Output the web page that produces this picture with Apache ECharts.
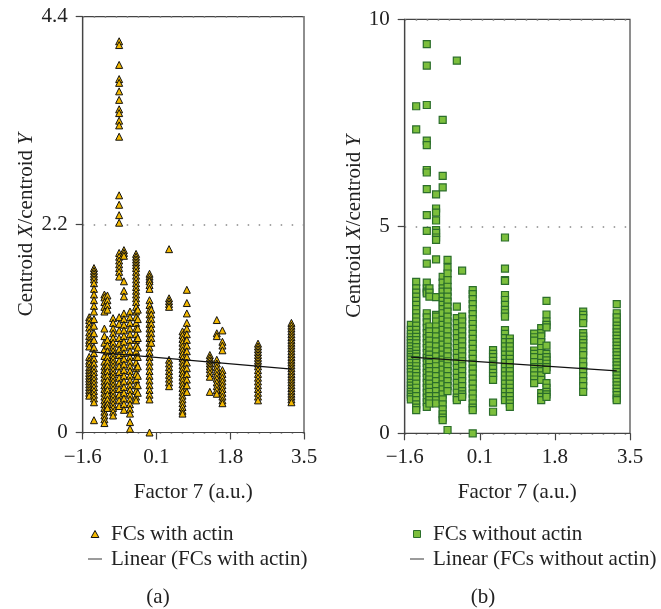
<!DOCTYPE html>
<html>
<head>
<meta charset="utf-8">
<script src="https://cdn.jsdelivr.net/npm/echarts@6/dist/echarts.min.js"></script>
<style>html,body{margin:0;padding:0;background:#fff}#c{width:661px;height:609px}</style>
</head>
<body>
<div id="c"></div>
<script>
// ---- Data ----
const xTicks = [-1.6, 0.1, 1.8, 3.5];
const yTicksA = [0, 2.2, 4.4];
const yTicksB = [0, 5, 10];

// Panel (a): FCs with actin — factor 7 levels and centroid ratio values per level
const factorA = [-1.45, -1.34, -1.10, -1.03, -0.90, -0.76, -0.65, -0.51, -0.37, -0.33, -0.06, -0.02, 0.39, 0.70, 0.80, 1.33, 1.49, 1.62, 2.44, 3.21];
const ratioA = [
  [1.22,1.19,1.15,1.11,1.06,1.02,0.98,0.95,0.91,0.80,0.76,0.73,0.69,0.66,0.63,0.60,0.57,0.54,0.51,0.48,0.45,0.42,0.39],
  [1.74,1.71,1.68,1.65,1.62,1.58,1.52,1.46,1.40,1.34,1.28,1.20,1.13,1.05,0.98,0.90,0.84,0.78,0.73,0.68,0.64,0.60,0.56,0.52,0.48,0.44,0.40,0.36,0.32,0.13],
  [1.46,1.43,1.38,1.33,1.28,1.10,1.02,0.95,0.88,0.81,0.75,0.70,0.66,0.62,0.58,0.54,0.50,0.46,0.42,0.38,0.34,0.30,0.26,0.22,0.18,0.14,0.10],
  [1.45,1.40,1.35,1.30,0.98,0.92,0.86,0.80,0.75,0.70,0.65,0.60,0.55,0.50,0.45,0.40,0.35,0.30,0.26],
  [1.21,1.16,1.10,1.05,1.00,0.95,0.90,0.86,0.82,0.78,0.74,0.70,0.66,0.62,0.58,0.54,0.50,0.46,0.42,0.38,0.34,0.30,0.26,0.22,0.18],
  [4.14,4.10,3.89,3.74,3.70,3.61,3.52,3.42,3.38,3.30,3.25,3.13,2.51,2.41,2.30,2.22,1.90,1.86,1.82,1.78,1.74,1.70,1.65,1.22,1.15,1.08,1.00,0.94,0.88,0.82,0.76,0.70,0.64,0.58,0.52,0.46,0.40,0.34,0.28],
  [1.93,1.90,1.87,1.60,1.50,1.44,1.26,1.20,1.14,1.08,1.02,0.96,0.90,0.84,0.78,0.72,0.66,0.60,0.54,0.48,0.42,0.36,0.30,0.24],
  [1.28,1.22,1.16,1.10,1.04,0.98,0.92,0.86,0.80,0.75,0.70,0.65,0.60,0.55,0.50,0.45,0.40,0.35,0.30,0.25,0.20,0.11,0.04],
  [1.89,1.86,1.83,1.80,1.77,1.74,1.70,1.66,1.62,1.58,1.54,1.50,1.46,1.42,1.38,1.33,1.28,1.22,1.16,1.10,1.04,0.98,0.92,0.86,0.80,0.74,0.68,0.62,0.56,0.50,0.44,0.38,0.34],
  [1.30,1.20,1.10,1.00,0.90,0.80,0.70,0.60,0.50,0.42],
  [1.68,1.65,1.62,1.60,1.56,1.52,1.40,1.35,1.30,1.25,1.20,1.15,1.10,1.05,1.00,0.95,0.90,0.85,0.80,0.75,0.70,0.65,0.60,0.55,0.50,0.45,0.40,0.35,0.00],
  [1.30,1.25,1.20,1.15,1.10,1.05,1.00,0.95],
  [1.94,1.42,1.39,1.36,1.33,0.77,0.73,0.69,0.65,0.61,0.57,0.53,0.49],
  [1.07,1.03,0.99,0.95,0.91,0.87,0.83,0.79,0.75,0.71,0.67,0.63,0.59,0.55,0.51,0.47,0.43,0.39,0.35,0.31,0.27,0.23,0.20],
  [1.51,1.37,1.26,1.16,1.10,1.04,0.98,0.92,0.86,0.80,0.74,0.68,0.62,0.56,0.50,0.43],
  [0.82,0.79,0.76,0.73,0.70,0.67,0.63,0.59,0.43],
  [1.19,1.05,1.02,0.77,0.73,0.69,0.65,0.61,0.57,0.53,0.49,0.45,0.41],
  [1.08,0.96,0.92,0.87,0.66,0.62,0.58,0.54,0.50,0.46,0.42,0.38,0.34,0.31],
  [0.94,0.91,0.88,0.85,0.82,0.79,0.76,0.73,0.70,0.66,0.62,0.58,0.54,0.50,0.46,0.42,0.38,0.34],
  [1.16,1.13,1.10,1.07,1.04,1.01,0.98,0.95,0.92,0.89,0.86,0.83,0.80,0.77,0.74,0.71,0.68,0.65,0.62,0.59,0.56,0.53,0.50,0.47,0.44,0.41,0.38,0.35,0.32]
];
const trendAx = [-1.45, 3.22];
const trendAy = [0.855, 0.67];

// Panel (b): FCs without actin
const factorB = [-1.46, -1.34, -1.10, -1.04, -0.89, -0.74, -0.63, -0.42, -0.30, -0.06, 0.40, 0.67, 0.78, 1.33, 1.49, 1.61, 2.44, 3.20];
const ratioB = [
  [2.62,2.50,2.40,2.32,2.25,2.18,2.10,2.03,1.96,1.90,1.84,1.78,1.70,1.62,1.55,1.48,1.40,1.30,1.22,1.15,1.08,1.00,0.94,0.88,0.82],
  [7.90,7.34,3.66,3.50,3.40,3.30,3.20,3.10,3.00,2.90,2.80,2.70,2.60,2.50,2.41,2.33,2.25,2.17,2.08,2.00,1.92,1.85,1.77,1.70,1.62,1.54,1.46,1.38,1.30,1.20,1.10,1.00,0.90,0.80,0.70,0.62,0.56],
  [9.40,8.88,7.93,7.07,6.96,6.36,6.30,5.90,5.27,4.89,4.41,4.10,3.64,3.50,3.42,3.38,2.90,2.80,2.68,2.55,2.42,2.30,2.18,2.06,1.94,1.82,1.70,1.58,1.46,1.34,1.22,1.10,0.98,0.86,0.75,0.64],
  [3.50,3.40,3.30,2.58,2.46,2.35,2.24,2.12,2.00,1.90,1.80,1.70,1.60,1.50,1.40,1.30,1.20,1.10,1.00,0.90,0.80,0.72],
  [5.77,5.43,5.33,5.14,4.91,4.84,4.73,4.67,4.20,3.29,2.86,2.82,2.70,2.58,2.46,2.34,2.22,2.10,1.98,1.86,1.74,1.62,1.50,1.38,1.26,1.14,1.02,0.90,0.80,0.72],
  [7.57,6.22,5.94,3.78,3.64,3.50,3.42,3.30,3.20,3.10,3.00,2.90,2.74,2.62,2.50,2.38,2.26,2.14,2.02,1.90,1.78,1.66,1.54,1.42,1.30,1.18,1.06,0.94,0.82,0.70,0.58,0.46,0.38,0.32],
  [4.19,4.00,3.86,3.70,3.54,3.42,3.30,3.18,3.06,2.94,2.82,2.70,2.58,2.46,2.34,2.22,2.09,1.98,1.86,1.74,1.62,1.50,1.38,1.26,1.14,1.02,0.08],
  [9.00,3.06,2.78,2.66,2.54,2.42,2.30,2.18,2.06,1.94,1.82,1.70,1.58,1.46,1.34,1.22,1.10,0.98,0.86,0.80],
  [3.93,2.82,2.70,2.58,2.46,2.34,2.22,2.10,1.98,1.86,1.74,1.62,1.50,1.38,1.26,1.14,1.02,0.94,0.88],
  [3.46,3.36,3.24,3.12,3.00,2.88,2.76,2.64,2.52,2.40,2.28,2.16,2.04,1.92,1.80,1.68,1.56,1.44,1.32,1.20,1.08,0.96,0.84,0.72,0.62,0.56,0.00],
  [2.01,1.92,1.84,1.75,1.66,1.56,1.46,1.38,1.29,0.74,0.52],
  [4.73,3.98,3.70,3.68,3.34,3.22,3.10,2.98,2.90,2.82,2.49,2.40,2.30,2.20,2.10,2.00,1.90,1.80,1.70,1.60,1.50,1.40,1.30,1.20,1.10,1.00,0.90,0.80],
  [2.29,2.20,2.10,2.00,1.90,1.80,1.70,1.60,1.50,1.40,1.30,1.20,1.10,1.00,0.90,0.80,0.72,0.64],
  [2.41,2.32,2.24,2.00,1.92,1.84,1.72,1.60,1.50,1.40,1.30,1.21],
  [2.54,2.42,2.34,2.20,2.06,1.94,1.82,1.70,1.60,1.50,1.40,1.29,0.97,0.88,0.80],
  [3.20,2.87,2.70,2.62,2.56,2.12,1.92,1.84,1.76,1.68,1.60,1.53,1.21,1.10,1.00,0.94,0.88],
  [2.94,2.86,2.78,2.66,2.42,2.34,2.26,2.18,2.10,1.98,1.89,1.73,1.62,1.50,1.38,1.26,1.14,1.00],
  [3.12,2.90,2.80,2.70,2.60,2.52,2.44,2.36,2.28,2.20,2.12,2.04,1.96,1.88,1.80,1.72,1.64,1.56,1.48,1.40,1.32,1.24,1.16,1.08,1.00,0.92,0.84,0.80]
];
const trendBx = [-1.46, 3.20];
const trendBy = [1.84, 1.51];

// ---- Build ----
function pts(xs, vals) { const out = []; xs.forEach((x, i) => vals[i].forEach(v => out.push([x, v]))); return out; }
const FONT = '"Liberation Serif", "Times New Roman", serif';
const FS = 21;
const INK = '#222';
const AX = '#444';
const fmtX = v => { const r = Math.round(v * 10) / 10; return (r < 0 ? '\u2212' : '') + Math.abs(r).toFixed(1); };
const TRI = 'path://M5,0L10,9L0,9Z';
const SQ = 'path://M0,0H10V10H0Z';
const DASH = 'path://M0,0H20V1.4H0Z';

function xAxis(gi) {
  return {
    type: 'value', gridIndex: gi, min: xTicks[0], max: xTicks[xTicks.length - 1],
    name: 'Factor 7 (a.u.)', nameLocation: 'middle', nameGap: 49,
    nameTextStyle: { fontFamily: FONT, fontSize: FS, color: INK },
    axisLine: { show: true, onZero: false, lineStyle: { color: AX, width: 1.2 } },
    axisTick: { show: true, inside: false, length: 7, customValues: xTicks, lineStyle: { color: AX, width: 1.2 } },
    axisLabel: { customValues: xTicks, margin: 14, formatter: fmtX, fontFamily: FONT, fontSize: FS, color: INK },
    splitLine: { show: false }
  };
}
function yAxis(gi, ticks, gap) {
  return {
    type: 'value', gridIndex: gi, min: ticks[0], max: ticks[ticks.length - 1], interval: ticks[1] - ticks[0],
    name: 'Centroid {i|X}/centroid {i|Y}', nameLocation: 'middle', nameGap: gap, nameRotate: 90,
    nameTextStyle: { fontFamily: FONT, fontSize: 21, color: INK, rich: { i: { fontFamily: FONT, fontSize: 21, fontStyle: 'italic', color: INK } } },
    axisLine: { show: true, onZero: false, lineStyle: { color: AX, width: 1.2 } },
    axisTick: { show: true, length: 7, lineStyle: { color: AX, width: 1.2 } },
    axisLabel: { margin: 15, fontFamily: FONT, fontSize: FS, color: INK,
      formatter: v => (v === 0 ? '0' : (Number.isInteger(ticks[1]) ? String(v) : v.toFixed(1))) },
    splitLine: { show: true, lineStyle: { color: '#888', width: 1.5, type: [1.5, 9.5] } }
  };
}
const legendText = { fontFamily: FONT, fontSize: FS, color: INK, padding: [0, 0, 0, 4], lineHeight: 22 };

const chart = echarts.init(document.getElementById('c'), null, { renderer: 'canvas' });
chart.setOption({
  backgroundColor: '#fff',
  animation: false,
  grid: [
    { left: 82.7, top: 16.7, width: 221.3, height: 415.8, show: true, borderColor: AX, borderWidth: 1.2, backgroundColor: 'transparent' },
    { left: 404.7, top: 19.3, width: 225.3, height: 414, show: true, borderColor: AX, borderWidth: 1.2, backgroundColor: 'transparent' }
  ],
  xAxis: [xAxis(0), xAxis(1)],
  yAxis: [yAxis(0, yTicksA, 46), yAxis(1, yTicksB, 38)],
  legend: [
    { left: 83, top: 518, orient: 'vertical', itemWidth: 14, itemHeight: 7, itemGap: 3, symbolKeepAspect: true,
      data: [
        { name: 'FCs with actin', icon: TRI, itemStyle: { color: '#f3b800', borderColor: '#111', borderWidth: 1 } },
        { name: 'Linear (FCs with actin)', icon: DASH, itemStyle: { color: '#333', borderWidth: 0 } }
      ],
      textStyle: legendText },
    { left: 405, top: 518, orient: 'vertical', itemWidth: 14, itemHeight: 7, itemGap: 3, symbolKeepAspect: true,
      data: [
        { name: 'FCs without actin', icon: SQ, itemStyle: { color: '#7cbf3c', borderColor: '#2b6e2b', borderWidth: 1 } },
        { name: 'Linear (FCs without actin)', icon: DASH, itemStyle: { color: '#333', borderWidth: 0 } }
      ],
      textStyle: legendText }
  ],
  graphic: [
    { type: 'text', x: 158, y: 597, style: { text: '(a)', font: FS + 'px ' + FONT, fill: INK, align: 'center', verticalAlign: 'middle' } },
    { type: 'text', x: 483, y: 597, style: { text: '(b)', font: FS + 'px ' + FONT, fill: INK, align: 'center', verticalAlign: 'middle' } }
  ],
  series: [
    { name: 'FCs with actin', type: 'scatter', xAxisIndex: 0, yAxisIndex: 0, symbol: 'triangle', symbolSize: 7,
      itemStyle: { color: '#f3b800', borderColor: '#111', borderWidth: 1, opacity: 1 }, data: pts(factorA, ratioA), z: 2 },
    { name: 'Linear (FCs with actin)', type: 'line', xAxisIndex: 0, yAxisIndex: 0, symbol: 'none', showSymbol: false,
      lineStyle: { color: '#111', width: 1.2 }, itemStyle: { color: '#111' },
      data: trendAx.map((x, i) => [x, trendAy[i]]), z: 5 },
    { name: 'FCs without actin', type: 'scatter', xAxisIndex: 1, yAxisIndex: 1, symbol: 'rect', symbolSize: 7,
      itemStyle: { color: '#7cbf3c', borderColor: '#2b6e2b', borderWidth: 1.2, opacity: 1 }, data: pts(factorB, ratioB), z: 2 },
    { name: 'Linear (FCs without actin)', type: 'line', xAxisIndex: 1, yAxisIndex: 1, symbol: 'none', showSymbol: false,
      lineStyle: { color: '#111', width: 1.2 }, itemStyle: { color: '#111' },
      data: trendBx.map((x, i) => [x, trendBy[i]]), z: 5 }
  ]
});
</script>
</body>
</html>
